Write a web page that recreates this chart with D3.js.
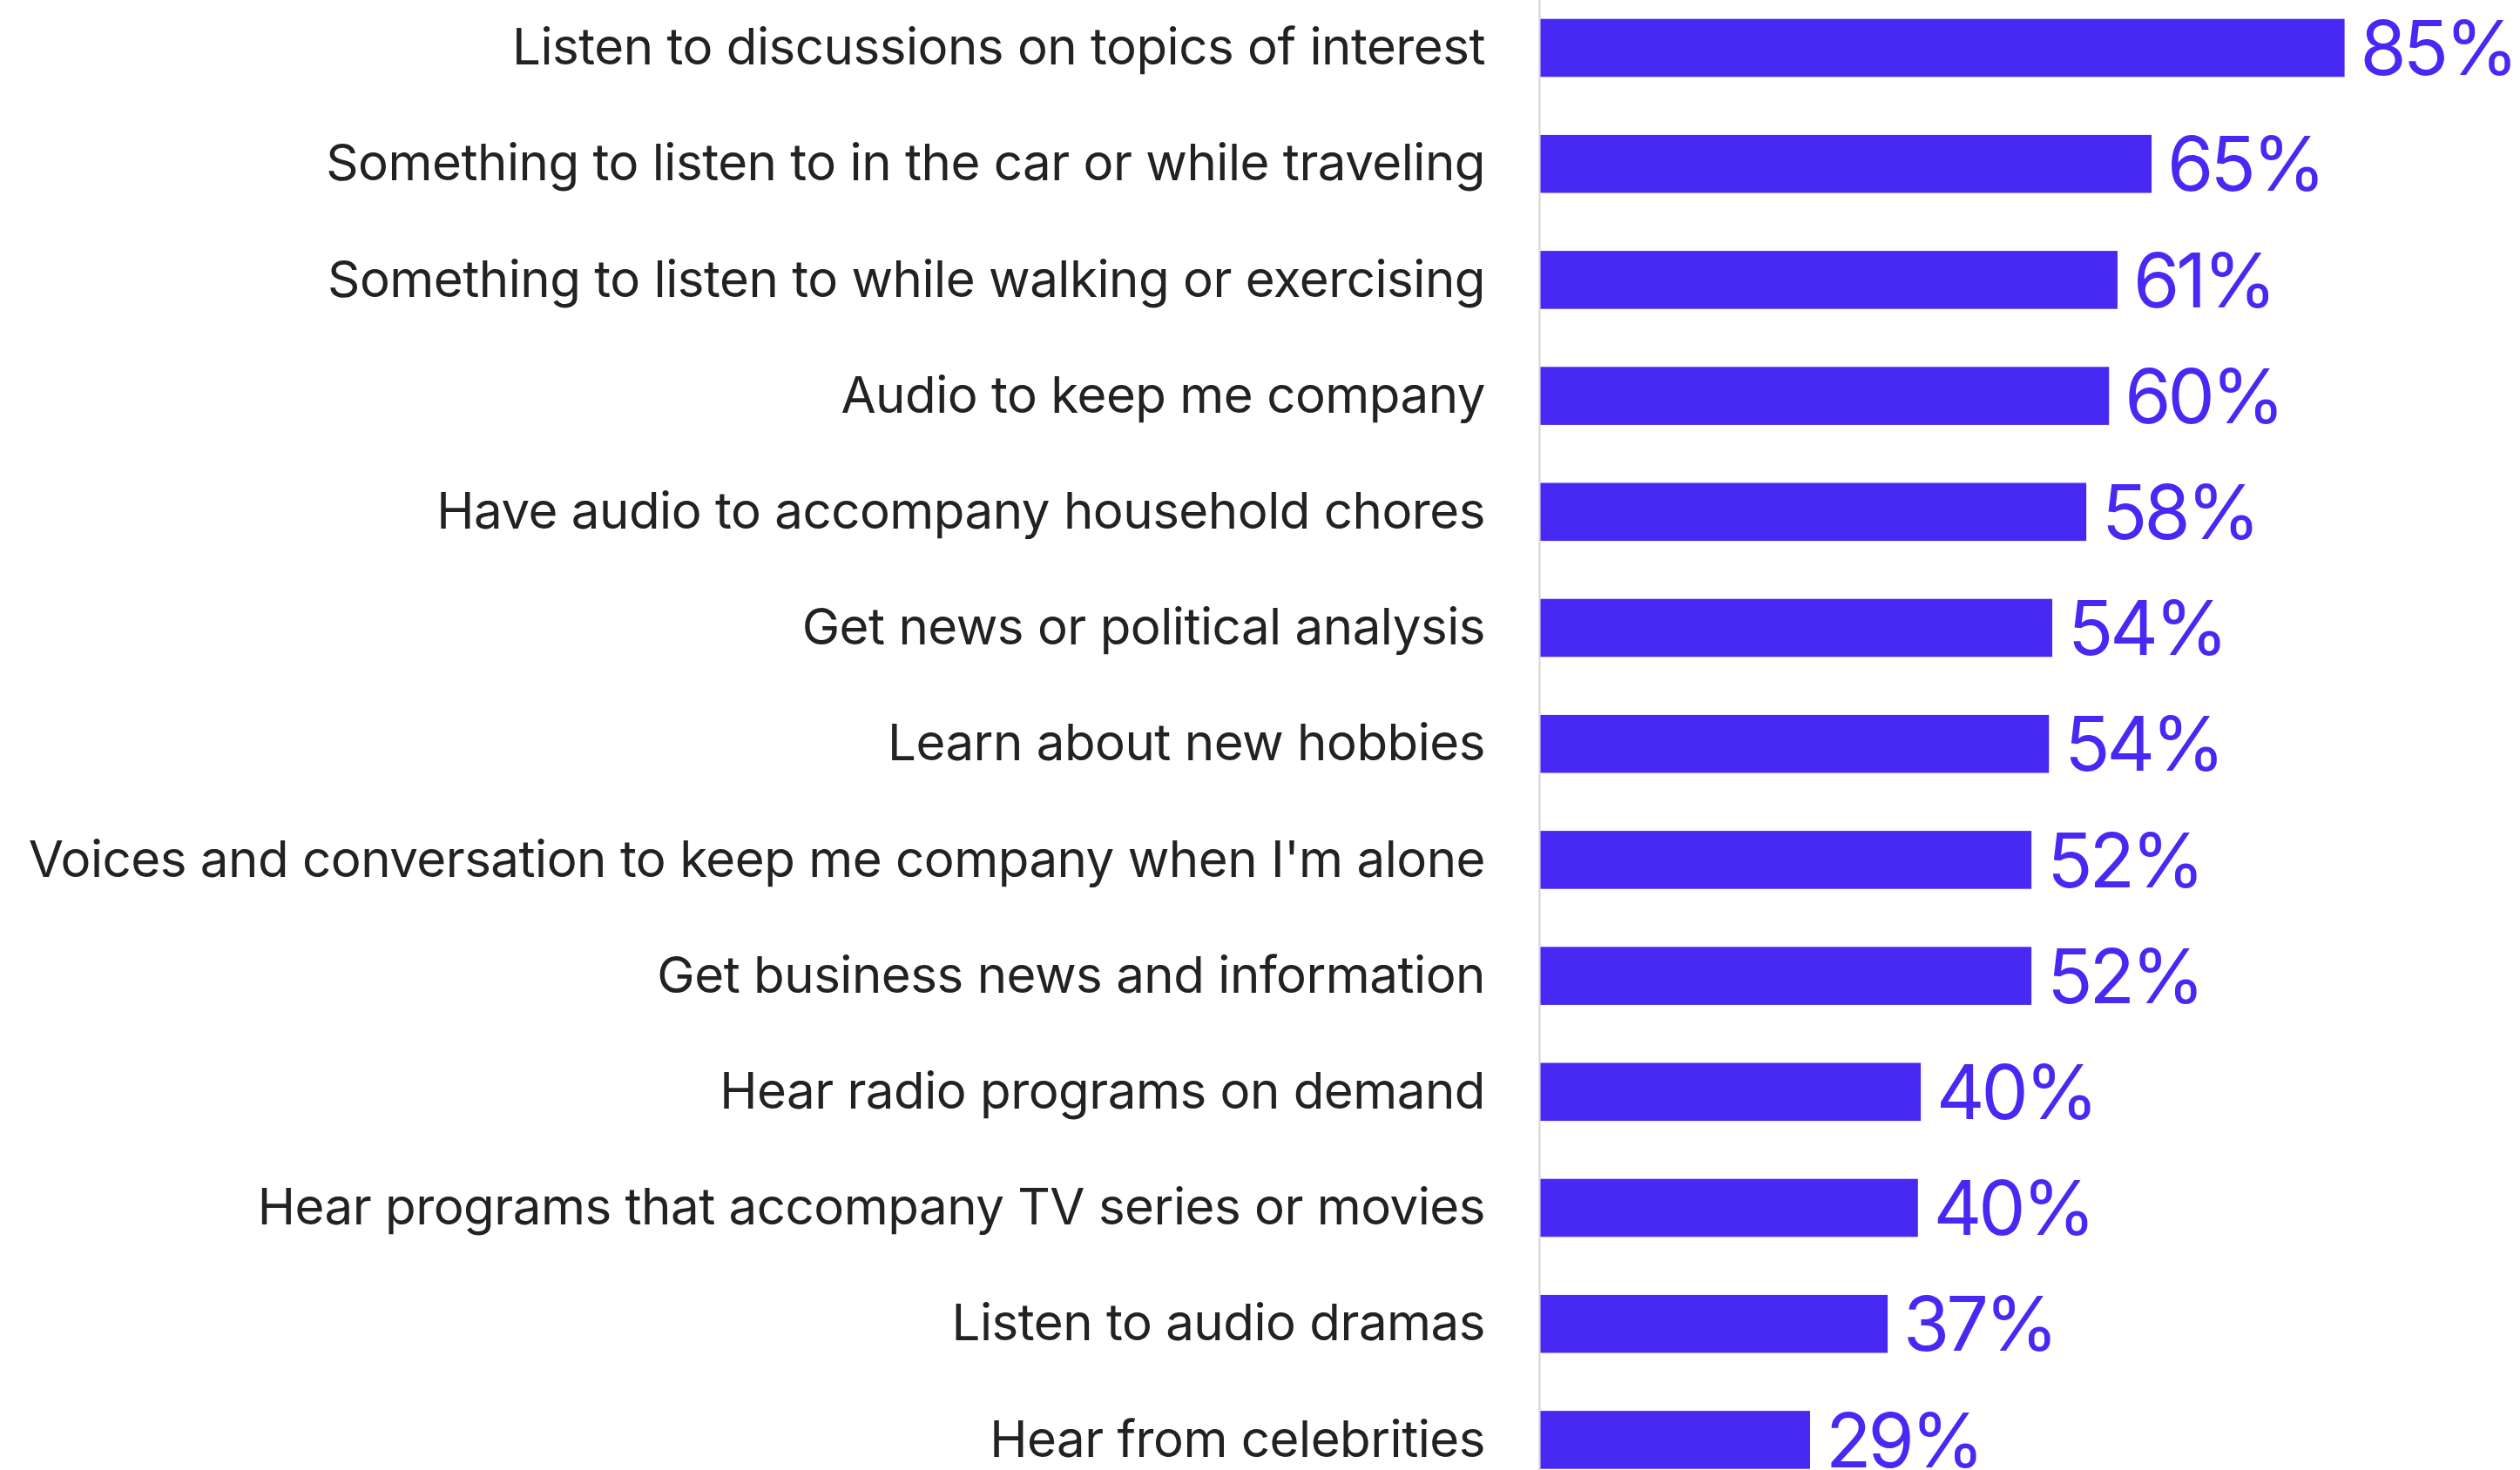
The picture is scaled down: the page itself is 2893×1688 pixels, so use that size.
<!DOCTYPE html>
<html>
<head>
<meta charset="utf-8">
<script src="https://cdn.jsdelivr.net/npm/d3@7"></script>
<style>
html,body{margin:0;padding:0;background:#fff;}
svg{display:block;}
</style>
</head>
<body>
<svg id="chart" width="2893" height="1688"></svg>
<script>
const categories = [
  "Listen to discussions on topics of interest",
  "Something to listen to in the car or while traveling",
  "Something to listen to while walking or exercising",
  "Audio to keep me company",
  "Have audio to accompany household chores",
  "Get news or political analysis",
  "Learn about new hobbies",
  "Voices and conversation to keep me company when I'm alone",
  "Get business news and information",
  "Hear radio programs on demand",
  "Hear programs that accompany TV series or movies",
  "Listen to audio dramas",
  "Hear from celebrities"
];
const values = [85.0, 64.6, 61.0, 60.1, 57.7, 54.1, 53.75, 51.9, 51.9, 40.2, 39.9, 36.7, 28.5];
const valueLabels = ["85%","65%","61%","60%","58%","54%","54%","52%","52%","40%","40%","37%","29%"];

const W = 2893, H = 1688;
const x0 = 1768.5;
const svg = d3.select("#chart");

const x = d3.scaleLinear().domain([0, 85]).range([x0, 2691.6]);
const y = d3.scaleBand().domain(categories).range([21.7, 1686.7]).paddingInner(0.5).paddingOuter(0);

const barColor = "#4729F3";
const font = "Inter, 'Noto Sans', sans-serif";

// axis line
svg.append("line")
  .attr("x1", x0 - 1).attr("x2", x0 - 1)
  .attr("y1", 0).attr("y2", H)
  .attr("stroke", "#d4d4d4").attr("stroke-width", 2);

// bars
svg.selectAll("rect.bar").data(categories).join("rect")
  .attr("class", "bar")
  .attr("x", x(0))
  .attr("y", d => y(d))
  .attr("width", (d, i) => x(values[i]) - x(0))
  .attr("height", y.bandwidth())
  .attr("fill", barColor);

// category labels
const labelSize = 57;
const cats = svg.selectAll("text.cat").data(categories).join("text")
  .attr("class", "cat")
  .attr("x", 1705)
  .attr("text-anchor", "end")
  .attr("font-family", font)
  .attr("font-size", labelSize)
  .attr("letter-spacing", -0.5)
  .attr("fill", "#222222")
  .text(d => d);

// fit the longest label to the reference width
let maxW = 0;
cats.each(function(){ maxW = Math.max(maxW, this.getComputedTextLength()); });
const targetW = 1672;
const newSize = labelSize * targetW / maxW;
cats.attr("font-size", newSize)
  .attr("y", d => y(d) + y.bandwidth() / 2 + newSize * 0.727 / 2 - 2);

// value labels
const valSize = 86;
svg.selectAll("text.val").data(categories).join("text")
  .attr("class", "val")
  .attr("x", (d, i) => x(values[i]) + 18)
  .attr("y", d => y(d) + y.bandwidth() / 2 + valSize * 0.727 / 2)
  .attr("font-family", font)
  .attr("font-size", valSize)
  .attr("letter-spacing", -4)
  .attr("fill", barColor)
  .text((d, i) => valueLabels[i]);
</script>
</body>
</html>
